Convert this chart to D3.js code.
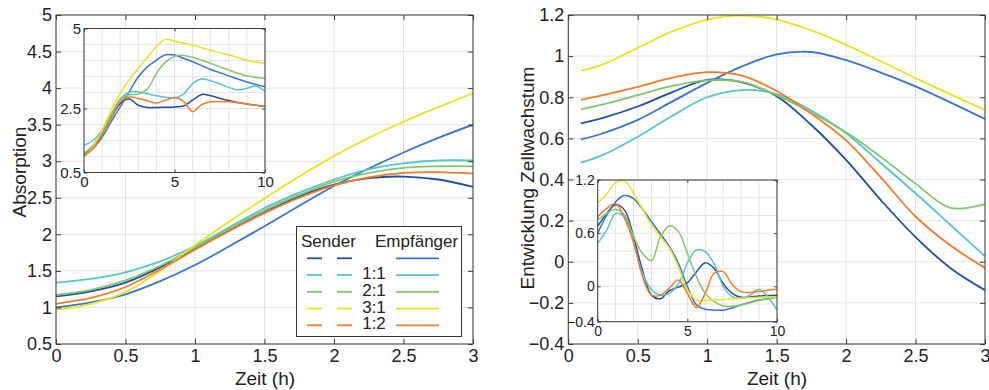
<!DOCTYPE html>
<html><head><meta charset="utf-8">
<script src="https://cdn.jsdelivr.net/npm/d3@7"></script>
<style>body{margin:0;background:#fff;} svg{display:block;font-family:"Liberation Sans",Arial,sans-serif;}</style>
</head><body>
<svg id="c" width="989" height="390"></svg>
<script>
// ---------- data ----------
const seriesNames = ["darkblue","blue","cyan","green","yellow","orange"];
const seriesColors = ["#1f4fa3","#3677c9","#53c5d0","#80c66c","#e9e224","#f47b2a"];

// Left main: Absorption over time (h)
const absX = [0,0.25,0.5,0.75,1,1.25,1.5,1.75,2,2.25,2.5,2.75,3];
const absDarkBlue = [1.15,1.22,1.34,1.55,1.80,2.06,2.30,2.52,2.68,2.77,2.79,2.75,2.65];
const absBlue     = [1.00,1.07,1.18,1.36,1.58,1.84,2.11,2.39,2.66,2.90,3.12,3.32,3.50];
const absCyan     = [1.34,1.39,1.48,1.63,1.84,2.10,2.36,2.57,2.75,2.89,2.97,3.01,3.01];
const absGreen    = [1.17,1.24,1.37,1.57,1.82,2.08,2.33,2.54,2.72,2.84,2.91,2.93,2.93];
const absYellow   = [0.97,1.05,1.21,1.50,1.85,2.18,2.49,2.79,3.07,3.32,3.54,3.74,3.93];
const absOrange   = [1.05,1.13,1.28,1.52,1.79,2.05,2.29,2.50,2.67,2.78,2.84,2.85,2.83];

// Left inset
const absInX = [0,0.5,1,1.5,2,2.5,3,3.5,4,4.5,5,5.5,6,6.5,7,7.5,8,8.5,9,9.5,10];
const absInDarkBlue = [1.09,1.30,1.72,2.20,2.66,2.80,2.60,2.53,2.53,2.54,2.55,2.58,2.76,2.94,2.90,2.82,2.75,2.69,2.64,2.60,2.57];
const absInBlue     = [1.04,1.25,1.61,2.08,2.55,3.02,3.49,3.80,4.01,4.18,4.17,4.07,3.96,3.84,3.72,3.62,3.52,3.42,3.33,3.25,3.18];
const absInCyan     = [1.35,1.50,1.82,2.30,2.80,3.01,3.02,2.96,2.90,2.85,2.83,2.95,3.28,3.42,3.37,3.27,3.16,3.08,3.13,3.20,3.04];
const absInGreen    = [1.09,1.35,1.77,2.30,2.78,2.93,2.95,3.10,3.60,3.95,4.13,4.16,4.10,4.01,3.91,3.80,3.70,3.60,3.52,3.47,3.44];
const absInYellow   = [0.99,1.30,1.82,2.45,2.97,3.40,3.75,4.10,4.43,4.66,4.61,4.54,4.48,4.40,4.32,4.25,4.17,4.09,4.01,3.95,3.91];
const absInOrange   = [1.01,1.25,1.70,2.20,2.71,2.86,2.81,2.74,2.67,2.76,2.84,2.72,2.40,2.62,2.71,2.72,2.71,2.68,2.64,2.60,2.57];

// Right main: Entwicklung Zellwachstum
const grX = [0.09,0.25,0.5,0.75,1,1.25,1.5,1.75,2,2.25,2.5,2.75,3];
const grDarkBlue = [0.673,0.70,0.755,0.825,0.885,0.872,0.805,0.665,0.495,0.30,0.12,-0.03,-0.138];
const grBlue     = [0.595,0.625,0.69,0.78,0.87,0.95,1.008,1.02,0.98,0.92,0.853,0.775,0.694];
const grCyan     = [0.482,0.52,0.608,0.71,0.80,0.835,0.815,0.735,0.625,0.48,0.333,0.18,0.027];
const grGreen    = [0.741,0.765,0.81,0.855,0.882,0.875,0.81,0.725,0.63,0.51,0.38,0.262,0.28];
const grYellow   = [0.929,0.96,1.04,1.12,1.178,1.197,1.178,1.125,1.055,0.975,0.893,0.815,0.738];
const grOrange   = [0.787,0.81,0.85,0.895,0.922,0.905,0.83,0.72,0.59,0.41,0.22,0.08,-0.03];

// Right inset
const grInX = [0,0.5,1,1.5,2,2.5,3,3.5,4,4.5,5,5.5,6,6.5,7,7.5,8,8.5,9,9.5,10];
const grInDarkBlue = [0.68,0.82,0.92,0.86,0.56,0.18,-0.10,-0.14,-0.05,-0.01,0.04,0.16,0.265,0.20,0.03,-0.08,-0.125,-0.12,-0.11,-0.105,-0.10];
const grInBlue     = [0.60,0.80,0.955,1.025,0.99,0.87,0.73,0.59,0.447,0.26,0.0,-0.21,-0.26,-0.27,-0.27,-0.245,-0.21,-0.18,-0.155,-0.14,-0.125];
const grInCyan     = [0.485,0.635,0.82,0.78,0.485,0.146,-0.04,-0.10,-0.08,0.03,0.26,0.41,0.39,0.25,0.0,-0.117,-0.136,-0.10,-0.035,-0.12,-0.268];
const grInGreen    = [0.75,0.82,0.87,0.805,0.56,0.37,0.29,0.56,0.68,0.62,0.372,0.11,-0.08,-0.174,-0.223,-0.225,-0.21,-0.185,-0.16,-0.14,-0.117];
const grInYellow   = [0.94,1.04,1.17,1.19,1.05,0.87,0.69,0.56,0.43,0.22,-0.04,-0.155,-0.16,-0.155,-0.15,-0.14,-0.136,-0.13,-0.125,-0.12,-0.117];
const grInOrange   = [0.786,0.88,0.935,0.767,0.50,0.11,-0.10,-0.10,-0.02,0.07,-0.08,-0.24,-0.08,0.15,0.165,0.02,-0.06,-0.07,-0.06,-0.045,-0.034];

// ticks
const mainXTicks = [0,0.5,1,1.5,2,2.5,3];
const absYTicks = [0.5,1,1.5,2,2.5,3,3.5,4,4.5,5];
const grYTicks = [-0.4,-0.2,0,0.2,0.4,0.6,0.8,1,1.2];
const inXGrid = [0,1,2,3,4,5,6,7,8,9,10];
const inXTicks = [0,5,10];
const absInYGrid = [0.5,1,1.5,2,2.5,3,3.5,4,4.5,5];
const absInYTicks = [0.5,2.5,5];
const grInYGrid = [-0.4,-0.2,0,0.2,0.4,0.6,0.8,1,1.2];
const grInYTicks = [-0.4,0,0.6,1.2];

const legendRatios = ["","1:1","2:1","3:1","1:2"];
const legendColors = ["#1f4fa3","#53c5d0","#80c66c","#e9e224","#f47b2a"];
const legendLineColors = ["#3677c9","#53c5d0","#80c66c","#e9e224","#f47b2a"];

// ---------- drawing ----------
const svg = d3.select("#c");
const frameCol = "#3c3c3c", gridCol = "#e2e2e2";

function panel(o){
  const g = svg.append("g");
  const x = d3.scaleLinear().domain(o.xd).range([o.x0,o.x1]);
  const y = d3.scaleLinear().domain(o.yd).range([o.y1,o.y0]);
  g.append("rect").attr("x",o.x0).attr("y",o.y0).attr("width",o.x1-o.x0).attr("height",o.y1-o.y0).attr("fill","#fff");
  g.selectAll(".gx").data(o.xgrid).enter().append("line")
    .attr("x1",d=>x(d)).attr("x2",d=>x(d)).attr("y1",o.y0).attr("y2",o.y1)
    .attr("stroke",gridCol).attr("stroke-width",1);
  g.selectAll(".gy").data(o.ygrid).enter().append("line")
    .attr("y1",d=>y(d)).attr("y2",d=>y(d)).attr("x1",o.x0).attr("x2",o.x1)
    .attr("stroke",gridCol).attr("stroke-width",1);
  const clipId = "clip"+Math.round(o.x0)+"_"+Math.round(o.y0);
  svg.append("clipPath").attr("id",clipId).append("rect")
    .attr("x",o.x0).attr("y",o.y0-2).attr("width",o.x1-o.x0).attr("height",o.y1-o.y0+4);
  const line = d3.line().x((d,i)=>x(o.xs[i])).y(d=>y(d)).curve(d3.curveCatmullRom.alpha(0.5));
  const lg = g.append("g").attr("clip-path","url(#"+clipId+")");
  o.series.forEach((s,i)=>{
    lg.append("path").attr("d",line(s)).attr("fill","none")
      .attr("stroke",seriesColors[i]).attr("stroke-width",o.lw);
  });
  const ax = g.append("g");
  const tl = o.tickLen;
  const xb = d3.axisBottom(x).tickValues(o.xticks).tickSize(-tl).tickPadding(o.xpad).tickFormat(d3.format(""));
  const xt = d3.axisTop(x).tickValues(o.xticks).tickSize(-tl).tickFormat("");
  const yl = d3.axisLeft(y).tickValues(o.yticks).tickSize(-tl).tickPadding(o.ypad).tickFormat(d3.format(""));
  const yr = d3.axisRight(y).tickValues(o.yticks).tickSize(-tl).tickFormat("");
  ax.append("g").attr("transform",`translate(0,${o.y1})`).call(xb);
  ax.append("g").attr("transform",`translate(0,${o.y0})`).call(xt);
  ax.append("g").attr("transform",`translate(${o.x0},0)`).call(yl);
  ax.append("g").attr("transform",`translate(${o.x1},0)`).call(yr);
  ax.selectAll(".domain").remove();
  ax.selectAll(".tick line").attr("stroke",frameCol);
  ax.selectAll("text").attr("font-family","Liberation Sans, Arial, sans-serif")
    .attr("font-size",o.fs).attr("fill","#222");
  g.append("rect").attr("x",o.x0).attr("y",o.y0).attr("width",o.x1-o.x0).attr("height",o.y1-o.y0)
    .attr("fill","none").attr("stroke",frameCol).attr("stroke-width",1);
  return {x,y,g};
}

panel({x0:56,x1:473,y0:15,y1:344,xd:[0,3],yd:[0.5,5],xs:absX,
  series:[absDarkBlue,absBlue,absCyan,absGreen,absYellow,absOrange],
  xgrid:mainXTicks,ygrid:absYTicks,xticks:mainXTicks,yticks:absYTicks,
  lw:1.8,tickLen:5,fs:18,xpad:5,ypad:4});
panel({x0:84,x1:265,y0:28.5,y1:172.5,xd:[0,10],yd:[0.5,5],xs:absInX,
  series:[absInDarkBlue,absInBlue,absInCyan,absInGreen,absInYellow,absInOrange],
  xgrid:inXGrid,ygrid:absInYGrid,xticks:inXTicks,yticks:absInYTicks,
  lw:1.5,tickLen:3,fs:15,xpad:4,ypad:3});
panel({x0:568.3,x1:985,y0:15,y1:344,xd:[0,3],yd:[-0.4,1.2],xs:grX,
  series:[grDarkBlue,grBlue,grCyan,grGreen,grYellow,grOrange],
  xgrid:mainXTicks,ygrid:grYTicks,xticks:mainXTicks,yticks:grYTicks,
  lw:1.8,tickLen:5,fs:18,xpad:5,ypad:4});
panel({x0:597.7,x1:777,y0:180,y1:321.7,xd:[0,10],yd:[-0.4,1.2],xs:grInX,
  series:[grInDarkBlue,grInBlue,grInCyan,grInGreen,grInYellow,grInOrange],
  xgrid:inXGrid,ygrid:grInYGrid,xticks:inXTicks,yticks:grInYTicks,
  lw:1.5,tickLen:3,fs:14,xpad:4,ypad:3});

function label(t,x,y,rot){
  const e = svg.append("text").text(t).attr("font-size",19).attr("fill","#222")
    .attr("text-anchor","middle").attr("dominant-baseline","central");
  if(rot) e.attr("transform",`translate(${x},${y}) rotate(-90)`); else e.attr("x",x).attr("y",y);
}
label("Zeit (h)",265,378,false);
label("Absorption",19,172,true);
label("Zeit (h)",777,378,false);
label("Entwicklung Zellwachstum",527,178,true);

const lgd = svg.append("g");
lgd.append("rect").attr("x",296.5).attr("y",226.5).attr("width",165).attr("height",110)
  .attr("fill","#fff").attr("stroke","#333").attr("stroke-width",1);
lgd.append("text").text("Sender").attr("x",301).attr("y",247).attr("font-size",17).attr("fill","#222");
lgd.append("text").text("Empfänger").attr("x",375).attr("y",247).attr("font-size",17).attr("fill","#222");
const rowY = d3.scaleLinear().domain([0,4]).range([258.3,325.3]);
legendColors.forEach((c,i)=>{
  const yy = rowY(i);
  lgd.append("line").attr("x1",307).attr("x2",322).attr("y1",yy).attr("y2",yy).attr("stroke",c).attr("stroke-width",1.8);
  lgd.append("line").attr("x1",337).attr("x2",352).attr("y1",yy).attr("y2",yy).attr("stroke",c).attr("stroke-width",1.8);
  lgd.append("line").attr("x1",396).attr("x2",439).attr("y1",yy).attr("y2",yy).attr("stroke",legendLineColors[i]).attr("stroke-width",1.8);
  if(legendRatios[i]) lgd.append("text").text(legendRatios[i]).attr("x",374).attr("y",yy-1.5)
    .attr("text-anchor","middle").attr("dominant-baseline","central").attr("font-size",17).attr("fill","#222");
});
</script>
</body></html>
